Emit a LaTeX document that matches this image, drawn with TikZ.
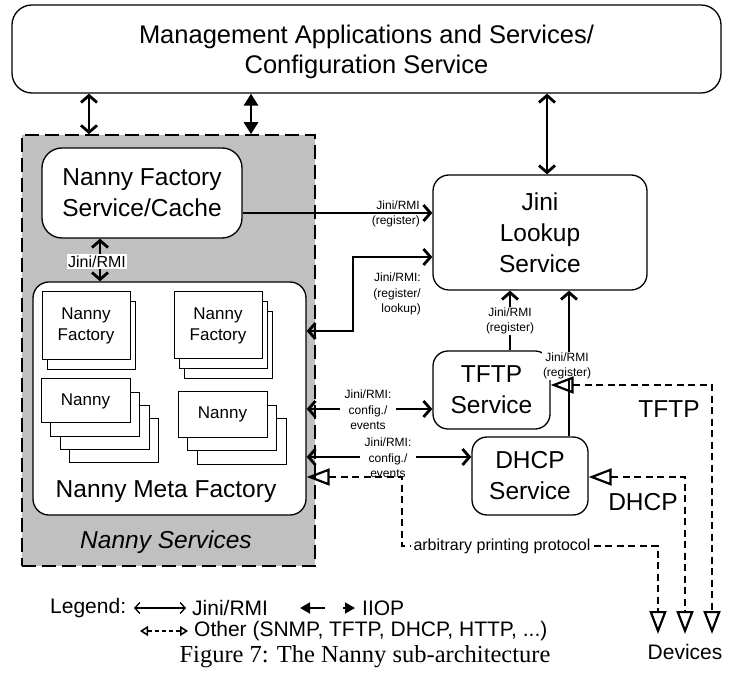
\documentclass[tikz,border=0pt]{standalone}
\usepackage{fontspec}
\setmainfont{Liberation Sans}
\newfontfamily\capfont{Liberation Serif}
\usetikzlibrary{arrows.meta}
\definecolor{nsgrey}{RGB}{192,192,192}
\newcommand\fsTop{\fontsize{25.5pt}{30pt}\selectfont}
\newcommand\fsMain{\fontsize{24.5pt}{31pt}\selectfont}
\newcommand\fsStk{\fontsize{17pt}{21pt}\selectfont}
\newcommand\fsSmall{\fontsize{12pt}{15.5pt}\selectfont}
\newcommand\fsMid{\fontsize{16pt}{19pt}\selectfont}
\newcommand\fsLeg{\fontsize{21pt}{25pt}\selectfont}
\newcommand\fsCap{\fontsize{24.5pt}{29pt}\selectfont}
\tikzset{
 rmiTip/.tip={Straight Barb[length=7pt,width=16pt]},
 oTip/.tip={Triangle[open,length=23pt,width=17pt,line width=2.2pt]},
 fTip/.tip={Triangle[length=12pt,width=14pt]},
 rbox/.style={draw, line width=1.3pt, fill=white, align=center, inner sep=0pt, font=\fsMain},
 stk/.style={draw, line width=1pt, fill=white},
 stkfront/.style={stk, font=\fsStk, align=center, inner sep=0pt},
 conn/.style={line width=2.8pt},
 rmitwo/.style={conn, {rmiTip}-{rmiTip}},
 rmione/.style={conn, -{rmiTip}},
 iiop/.style={conn, {fTip}-{fTip}},
 other/.style={line width=2.8pt, dash pattern=on 7pt off 4.5pt},
 lbl/.style={font=\fsSmall, align=center, inner sep=1pt},
 lblw/.style={lbl, fill=white},
}
\begin{document}
\begin{tikzpicture}[x=1pt,y=-1pt]
\useasboundingbox (0,0) rectangle (731,684);
% management box
\node[rbox, font=\fsTop, rounded corners=20pt, minimum width=709pt, minimum height=88pt, text depth=0pt] (mgmt) at (366.5,49) {Management Applications and Services/\\Configuration Service};
% nanny services region
\node[draw, fill=nsgrey, line width=1.6pt, dash pattern=on 14pt off 6pt, minimum width=293pt, minimum height=431pt, inner sep=0pt] (nsvc) at (168.5,350.5) {};
\node[rbox, rounded corners=20pt, minimum width=200pt, minimum height=90pt] (nfs) at (142,193) {Nanny Factory\\Service/Cache};
\node[rbox, rounded corners=16pt, minimum width=273pt, minimum height=233pt] (nmf) at (169.5,398.5) {};
\node[font=\fsMain, anchor=base] (nmflbl) at (166,497) {Nanny Meta Factory};
\node[font=\fsMain\itshape, anchor=base] (nslbl) at (166,548) {Nanny Services};
% stacks
\foreach \i in {1} \draw[stk] ({42+5*\i},{292+10*\i}) rectangle +(88,68);
\node[stkfront, minimum width=88pt, minimum height=68pt] (nf1) at (86,326) {Nanny\\Factory};
\foreach \i in {2,1} \draw[stk] ({174+5*\i},{292+10*\i}) rectangle +(88,67);
\node[stkfront, minimum width=88pt, minimum height=67pt] (nf2) at (218,325.5) {Nanny\\Factory};
\foreach \i in {3,2,1} \draw[stk] ({41+9.5*\i},{379+13.3*\i}) rectangle +(89,44);
\node[stkfront, minimum width=89pt, minimum height=44pt] (n1) at (85.5,401) {Nanny};
\foreach \i in {2,1} \draw[stk] ({178+9.5*\i},{392+13.5*\i}) rectangle +(89,45);
\node[stkfront, minimum width=89pt, minimum height=45pt] (n2) at (222.5,414.5) {Nanny};
% right side services
\node[rbox, rounded corners=16pt, minimum width=214pt, minimum height=115pt] (jini) at (540,232.5) {Jini\\Lookup\\Service};
\node[rbox, rounded corners=15pt, minimum width=117pt, minimum height=78pt] (tftp) at (491.5,390) {TFTP\\Service};
\node[rbox, rounded corners=15pt, minimum width=116pt, minimum height=78pt] (dhcp) at (530,476) {DHCP\\Service};
% top connectors
\draw[rmitwo] (mgmt.south -| 89,0) -- (nsvc.north -| 89,0);
\draw[iiop] (mgmt.south -| 251,0) -- (nsvc.north -| 251,0);
\draw[rmitwo] (mgmt.south -| 547,0) -- (jini.north -| 547,0);
% factory to meta
\draw[rmitwo] (nfs.south -| 100,0) -- (nmf.north -| 100,0);
\node[font=\fsMid, fill=white, inner sep=1.5pt] (lfm) at (97,261.5) {Jini/RMI};
% factory to jini
\draw[rmione] (nfs.east |- 0,213) -- (jini.west |- 0,213);
\node[lbl, align=right, anchor=east] (l1) at (421,214) {Jini/RMI\\(register)};
% meta to jini
\coordinate (b1) at (353,294);
\draw[rmitwo] (nmf.east |- 0,331) -| (b1) |- (jini.west |- 0,257);
\node[lbl, align=right, anchor=north east] (l2) at (422,272) {Jini/RMI:\\(register/\\lookup)};
% tftp / dhcp to jini
\draw[rmione] (tftp.north -| 510,0) -- (jini.south -| 510,0);
\node[lblw] (l3) at (510,321) {Jini/RMI\\(register)};
\draw[rmione] (dhcp.north -| 569,0) -- (jini.south -| 569,0);
\node[lblw] (l4) at (567,366) {Jini/RMI\\(register)};
% meta to tftp / dhcp
\draw[rmitwo] (nmf.east |- 0,409) -- (tftp.west |- 0,409);
\node[lblw, inner xsep=5pt] (l5) at (368,410) {Jini/RMI:\\config./\\events};
\draw[rmitwo] (nmf.east |- 0,457) -- (dhcp.west |- 0,457);
\node[lblw, inner xsep=5pt] (l6) at (388,458) {Jini/RMI:\\config./\\events};
% other protocols
\coordinate (dv1) at (658,634);
\coordinate (dv2) at (685,634);
\coordinate (dv3) at (712,634);
\coordinate (pc) at (402,546);
\draw[other, {oTip}-{oTip}] (nmf.east |- 0,477) -| (pc) -| (dv1);
\draw[other, {oTip}-{oTip}] (dhcp.east |- 0,477) -| (dv2);
\draw[other, {oTip}-{oTip}] (tftp.east |- 0,385) -| (dv3);
\node[font=\fontsize{16pt}{19pt}\selectfont, fill=white, inner xsep=3pt, inner ysep=1pt] (app) at (502,546) {arbitrary printing protocol};
\node[font=\fsMain] (ltftp) at (669,409) {TFTP};
\node[font=\fsMain] (ldhcp) at (643,502) {DHCP};
\node[font=\fsLeg] (dev) at (685,652) {Devices};
% legend
\node[font=\fsLeg, anchor=west, inner sep=0pt] (leg) at (50,608) {Legend:};
\coordinate (la1) at (134,608);
\coordinate (la2) at (186,608);
\draw[line width=1.3pt, {Straight Barb[length=5pt,width=11pt]}-{Straight Barb[length=5pt,width=11pt]}] (la1) -- (la2);
\node[font=\fsLeg, anchor=west, inner sep=0pt] (lrmi) at (192,608) {Jini/RMI};
\coordinate (lb1) at (300,608);
\coordinate (lb2) at (325,608);
\coordinate (lb3) at (343,608);
\coordinate (lb4) at (355,608);
\draw[line width=1.8pt, {Triangle[length=10pt,width=11pt]}-] (lb1) -- (lb2);
\draw[line width=1.8pt, -{Triangle[length=10pt,width=11pt]}] (lb3) -- (lb4);
\node[font=\fsLeg, anchor=west, inner sep=0pt] (liiop) at (362,608) {IIOP};
\coordinate (lc1) at (140,631);
\coordinate (lc2) at (188,631);
\draw[line width=1.5pt, dash pattern=on 4pt off 3pt, {Triangle[open,length=8pt,width=10pt,line width=1.5pt]}-{Triangle[open,length=8pt,width=10pt,line width=1.5pt]}] (lc1) -- (lc2);
\node[font=\fsLeg, anchor=west, inner sep=0pt] (lother) at (194,631) {Other (SNMP, TFTP, DHCP, HTTP, ...)};
\node[font=\capfont\fsCap] (cap) at (365,657) {Figure 7: The Nanny sub-architecture};
\end{tikzpicture}
\end{document}
